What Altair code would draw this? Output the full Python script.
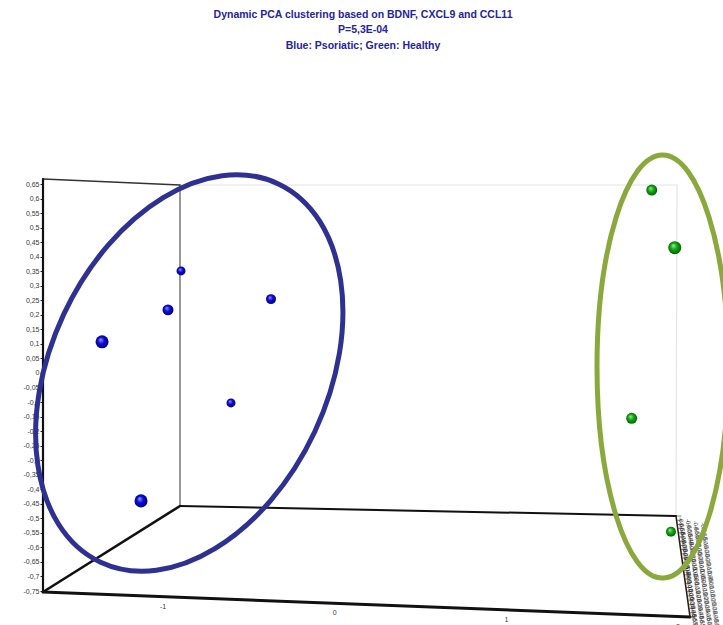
import altair as alt
import pandas as pd

# ---- data -----------------------------------------------------------------
# Psoriatic subjects: projected PC1 / PC2 and depth (PC3, nearer = larger sphere)
blue_pc1 = [-0.895, -0.971, -1.355, -0.371, -0.604, -1.128]
blue_pc2 = [0.351, 0.217, 0.107, 0.254, -0.103, -0.440]
blue_pc3 = [0.13, 0.43, 0.80, 0.27, 0.13, 0.80]

# Healthy subjects
green_pc1 = [1.847, 1.981, 1.730, 1.959]
green_pc2 = [0.629, 0.431, -0.156, -0.546]
green_pc3 = [0.43, 0.80, 0.43, 0.27]

# cluster outlines: centre (PC1, PC2)
cluster_pc1 = [-0.847, 1.910]
cluster_pc2 = [0.0, 0.022]

x_ticks = [-1, 0, 1, 2]
y_ticks = [round(v / 100, 2) for v in range(-75, 70, 5)]
z_ticks = [round(v / 100, 2) for v in range(-60, 65, 5)]

title_lines = [
    "Dynamic PCA clustering based on BDNF, CXCL9 and CCL11",
    "P=5,3E-04",
    "Blue: Psoriatic; Green: Healthy",
]

# ---- 3-D box frame (corners in axis units) ---------------------------------
X0, X1 = -1.699, 2.262
Y0, Y1 = -0.75, 0.65
flt = (-1.699, 0.667)
flb = (-1.699, -0.7535)
blt = (-0.901, 0.6466)
blb = (-0.901, -0.4576)
brt = (1.994, 0.6466)
brb = (1.988, -0.492)
frb = (2.070, -0.8394)

edges = pd.DataFrame(
    [
        (*brt, *blt, "#e4e4e4", 1.2),
        (*brt, *brb, "#e4e4e4", 1.2),
        (*blt, *blb, "#555555", 1.2),
        (*flt, *blt, "#333333", 1.6),
        (*blb, *brb, "#111111", 2.0),
        (*flb, *blb, "#111111", 2.6),
        (*flt, *flb, "#111111", 2.2),
        (*flb, *frb, "#111111", 3.0),
        (*brb, *frb, "#222222", 1.6),
    ],
    columns=["x", "y", "x2", "y2", "c", "w"],
)

xs = alt.Scale(domain=[X0, X1], nice=False, zero=False)
ys = alt.Scale(domain=[Y0, Y1], nice=False, zero=False)

y_axis = alt.Axis(
    values=y_ticks,
    title=None,
    grid=False,
    domain=False,
    ticks=True,
    tickSize=3,
    tickColor="#222",
    tickWidth=1,
    labelFontSize=7,
    labelFont="Liberation Sans",
    labelColor="#3a3a3a",
    labelPadding=1,
    labelExpr="replace(toString(datum.value), '.', ',')",
)

X = lambda f="x": alt.X(f"{f}:Q", scale=xs, axis=None)
Y = lambda f="y": alt.Y(f"{f}:Q", scale=ys, axis=y_axis)

frame = alt.Chart(edges).mark_rule(strokeCap="round").encode(
    x=X(), y=Y(), x2="x2:Q", y2="y2:Q",
    color=alt.Color("c:N", scale=None),
    strokeWidth=alt.StrokeWidth("w:Q", scale=None),
)

# x tick labels sit along the slanted front edge
def on_front_edge(v):
    t = (v - flb[0]) / (frb[0] - flb[0])
    return flb[1] + t * (frb[1] - flb[1])

xlab = pd.DataFrame({"x": x_ticks, "y": [on_front_edge(v) for v in x_ticks],
                     "t": [str(v) for v in x_ticks]})
xlabels = alt.Chart(xlab).mark_text(
    dy=10, fontSize=7, font="Liberation Sans", color="#3a3a3a"
).encode(x=X(), y=Y(), text="t:N")

# depth axis labels, seen almost edge-on along the right floor edge
zt = [(z - z_ticks[0]) / (z_ticks[-1] - z_ticks[0]) for z in z_ticks]
zlab = pd.DataFrame({
    "x": [brb[0] + t * (frb[0] - brb[0]) for t in zt],
    "y": [brb[1] + t * (frb[1] - brb[1]) for t in zt],
    "t": [str(z).replace(".", ",") for z in z_ticks],
})
zlayers = [
    alt.Chart(zlab).mark_text(
        angle=80, align="left", baseline="middle", dx=dx, dy=dy, fontSize=6,
        font="Liberation Sans", color=col,
    ).encode(x=X(), y=Y(), text="t:N")
    for dx, dy, col in [(2, -4, "#222"), (5, -11, "#333"), (8, -18, "#444"), (11, -25, "#555")]
]
zticks = alt.Chart(zlab).mark_tick(
    orient="horizontal", size=5, thickness=0.8, color="#222", xOffset=3
).encode(x=X(), y=Y())


def sphere(hi, mid, lo):
    return alt.RadialGradient(
        gradient="radial",
        x1=0.38, y1=0.32, r1=0.0,
        x2=0.5, y2=0.5, r2=0.55,
        stops=[
            alt.GradientStop(offset=0.0, color=hi),
            alt.GradientStop(offset=0.45, color=mid),
            alt.GradientStop(offset=1.0, color=lo),
        ],
    )


size_scale = alt.Scale(domain=[0, 1], range=[64, 196])

blue_df = pd.DataFrame({"x": blue_pc1, "y": blue_pc2, "d": blue_pc3})
green_df = pd.DataFrame({"x": green_pc1, "y": green_pc2, "d": green_pc3})

blue_pts = alt.Chart(blue_df).mark_circle(
    fill=sphere("#9c9cff", "#0b0bdc", "#000078"), opacity=1, strokeWidth=0
).encode(x=X(), y=Y(), size=alt.Size("d:Q", scale=size_scale, legend=None))

green_pts = alt.Chart(green_df).mark_circle(
    fill=sphere("#9cf09c", "#14a814", "#005a00"), opacity=1, strokeWidth=0
).encode(x=X(), y=Y(), size=alt.Size("d:Q", scale=size_scale, legend=None))

# cluster outlines drawn as elliptical symbols
def ellipse(ratio):
    return f"M -1 0 A 1 {ratio} 0 1 1 1 0 A 1 {ratio} 0 1 1 -1 0 Z"

blue_ring = alt.Chart(pd.DataFrame({"x": cluster_pc1[:1], "y": cluster_pc2[:1]})).mark_point(
    shape=ellipse(0.663), filled=False, stroke="#2e3192", strokeWidth=5, opacity=1
).encode(x=X(), y=Y(), size=alt.value(174724), angle=alt.value(115.1))

green_ring = alt.Chart(pd.DataFrame({"x": cluster_pc1[1:], "y": cluster_pc2[1:]})).mark_point(
    shape=ellipse(0.31), filled=False, stroke="#8aa83c", strokeWidth=5, opacity=1
).encode(x=X(), y=Y(), size=alt.value(178929), angle=alt.value(90))

chart = alt.layer(
    frame, zticks, *zlayers, xlabels, blue_pts, green_pts, blue_ring, green_ring
).properties(
    width=680,
    height=407,
    padding={"left": 43, "top": 184, "right": 0, "bottom": 34},
    autosize="none",
    background="white",
    title=alt.TitleParams(
        text=title_lines,
        anchor="middle",
        dx=-20,
        offset=94,
        fontSize=10.5,
        font="Liberation Sans",
        fontWeight="bold",
        color="#2424a0",
        lineHeight=15.5,
    ),
).configure_view(stroke=None)

chart.save("out.html", embed_options={"renderer": "svg", "actions": False})
